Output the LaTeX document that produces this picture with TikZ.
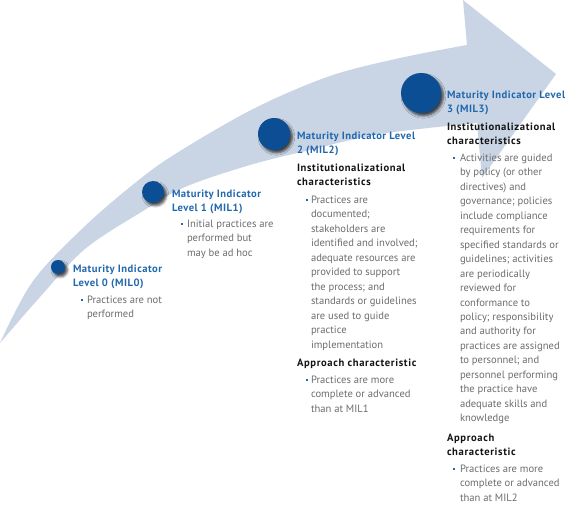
\documentclass[tikz,border=0pt]{standalone}
\usepackage{fontspec}
\setmainfont{PT Sans}
\newfontfamily\ttlfont[LetterSpace=4.7]{PT Sans}
\newfontfamily\hdfont[LetterSpace=6]{PT Sans}
\usetikzlibrary{shadows.blur}
\definecolor{bandc}{HTML}{C9D5E4}
\definecolor{dotc}{HTML}{0B4E93}
\definecolor{ttlc}{HTML}{2167AE}
\definecolor{txtc}{HTML}{6B6C6E}
\definecolor{hdc}{HTML}{141414}
\newcommand\lns[1]{\begin{tabular}[t]{@{}l@{}}#1\end{tabular}}
\begin{document}
\begin{tikzpicture}[x=1pt,y=-1pt,
  every node/.style={inner sep=0pt, outer sep=0pt},
  lvltitle/.style={anchor=base west, text=ttlc, font=\fontsize{10.6}{14.45}\selectfont\ttlfont\bfseries},
  lvlhead/.style={anchor=base west, text=hdc, font=\fontsize{10.6}{14.45}\selectfont\hdfont\bfseries},
  lvltext/.style={anchor=base west, text=txtc, font=\fontsize{10.6}{14.45}\selectfont},
  bulsq/.style={fill=ttlc, minimum size=2.8pt},
  lvldot/.style={circle, fill=dotc, blur shadow={shadow xshift=2.4pt, shadow yshift=-2.8pt, shadow blur radius=2.4pt, shadow opacity=70}}
]
\useasboundingbox (0,0) rectangle (580,505);
% arrow band
\fill[bandc] plot[smooth, tension=0.55] coordinates {(0,343) (33,281) (85,226) (140,179) (180,151) (255,108) (330,76) (400,58) (467,45)}
  -- (463,0) -- (556,74) -- (482,178) --
  plot[smooth, tension=0.55] coordinates {(477,123) (380,134) (310,150) (250,165) (185,187) (143,211) (85,249) (40,297) (0,343)} -- cycle;
% circles
\node[lvldot, minimum size=14pt] (c0) at (58,267) {};
\node[lvldot, minimum size=22pt] (c1) at (153,192) {};
\node[lvldot, minimum size=32pt] (c2) at (274,134) {};
\node[lvldot, minimum size=40pt] (c3) at (421,93) {};
% MIL0
\node[lvltitle] (t0) at (73,272.5) {\lns{Maturity Indicator\\Level 0 (MIL0)}};
\node[bulsq] (q0) at (82,300) {};
\node[lvltext] (b0) at (87,303.5) {\lns{Practices are not\\performed}};
% MIL1
\node[lvltitle] (t1) at (172,197.5) {\lns{Maturity Indicator\\Level 1 (MIL1)}};
\node[bulsq] (q1) at (182,224) {};
\node[lvltext] (b1) at (187,227.5) {\lns{Initial practices are\\performed but\\may be ad hoc}};
% MIL2
\node[lvltitle] (t2) at (297,139.5) {\lns{Maturity Indicator Level\\2 (MIL2)}};
\node[lvlhead] (h2) at (297,171.5) {\lns{Institutionalizational\\characteristics}};
\node[bulsq] (q2) at (307,200) {};
\node[lvltext] (b2) at (311,203.5) {\lns{Practices are\\documented;\\stakeholders are\\identified and involved;\\adequate resources are\\provided to support\\the process; and\\standards or guidelines\\are used to guide\\practice\\implementation}};
\node[lvlhead] (a2) at (297,366.5) {\lns{Approach characteristic}};
\node[bulsq] (r2) at (307,380) {};
\node[lvltext] (d2) at (311,383.5) {\lns{Practices are more\\complete or advanced\\than at MIL1}};
% MIL3
\node[lvltitle] (t3) at (447,98.5) {\lns{Maturity Indicator Level\\3 (MIL3)}};
\node[lvlhead] (h3) at (447,130.5) {\lns{Institutionalizational\\characteristics}};
\node[bulsq] (q3) at (454,158) {};
\node[lvltext] (b3) at (460,161.5) {\lns{Activities are guided\\by policy (or other\\directives) and\\governance; policies\\include compliance\\requirements for\\specified standards or\\guidelines; activities\\are periodically\\reviewed for\\conformance to\\policy; responsibility\\and authority for\\practices are assigned\\to personnel; and\\personnel performing\\the practice have\\adequate skills and\\knowledge}};
\node[lvlhead] (a3) at (447,441) {\lns{Approach\\characteristic}};
\node[bulsq] (r3) at (454,469) {};
\node[lvltext] (d3) at (460,472.5) {\lns{Practices are more\\complete or advanced\\than at MIL2}};
\end{tikzpicture}
\end{document}
